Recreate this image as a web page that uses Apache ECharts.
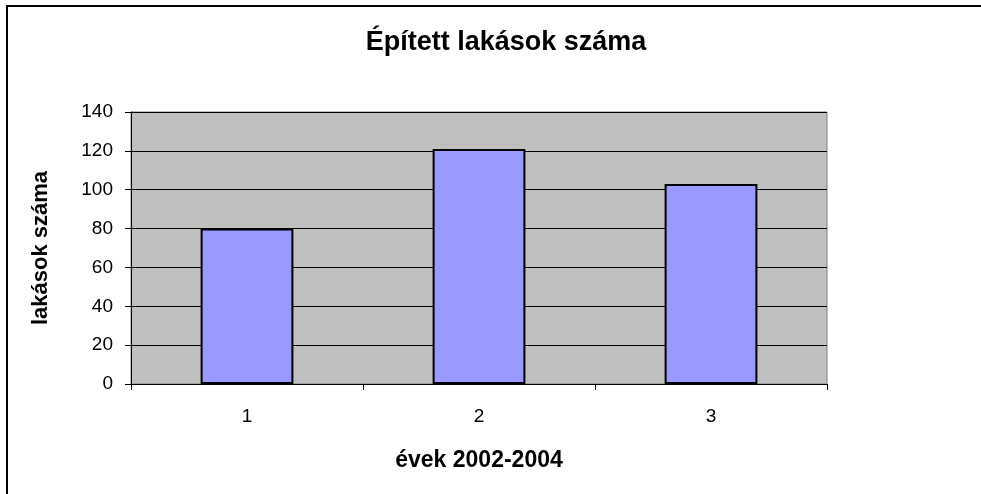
<!DOCTYPE html>
<html>
<head>
<meta charset="utf-8">
<script src="https://cdn.jsdelivr.net/npm/echarts@6/dist/echarts.min.js"></script>
<style>
  html, body { margin: 0; padding: 0; background: #fff; }
  #chart { width: 981px; height: 494px; }
</style>
</head>
<body>
<div id="chart"></div>
<script>
// adatok
var years = ["1", "2", "3"];
var flats = [80, 121, 103];
var yTicks = [0, 20, 40, 60, 80, 100, 120, 140];

var chart = echarts.init(document.getElementById("chart"));
var font = "Liberation Sans, Arial, sans-serif";

var option = {
  animation: false,
  backgroundColor: "#fff",
  title: {
    text: "Épített lakások száma",
    left: 501,
    textAlign: "center",
    top: 24,
    textStyle: { fontFamily: font, fontSize: 27, fontWeight: "bold", color: "#000" }
  },
  // keret a diagram körül
  graphic: [
    {
      type: "rect",
      shape: { x: 7, y: 6, width: 1100, height: 600 },
      style: { fill: "none", stroke: "#000", lineWidth: 2 },
      silent: true
    }
  ],
  grid: {
    left: 131,
    right: 154,
    top: 112,
    bottom: 110,
    show: true,
    backgroundColor: "#c0c0c0",
    borderColor: "#808080",
    borderWidth: 1
  },
  xAxis: {
    type: "category",
    data: years,
    name: "évek 2002-2004",
    nameLocation: "middle",
    nameGap: 65,
    nameTextStyle: { fontFamily: font, fontSize: 23, fontWeight: "bold", color: "#000" },
    axisLine: { lineStyle: { color: "#000", width: 1 } },
    axisTick: { show: true, alignWithLabel: false, length: 6, lineStyle: { color: "#000" } },
    axisLabel: { fontFamily: font, fontSize: 19, color: "#000", margin: 23 },
    splitLine: { show: false }
  },
  yAxis: {
    type: "value",
    min: yTicks[0],
    max: yTicks[yTicks.length - 1],
    interval: 20,
    name: "lakások száma",
    nameLocation: "middle",
    nameGap: 79,
    nameTextStyle: { fontFamily: font, fontSize: 22, fontWeight: "bold", color: "#000" },
    axisLine: { show: true, lineStyle: { color: "#000", width: 1 } },
    axisTick: { show: true, length: 6, lineStyle: { color: "#000" } },
    axisLabel: { fontFamily: font, fontSize: 19, color: "#000", margin: 18 },
    splitLine: { show: true, lineStyle: { color: "#000", width: 1 } }
  },
  series: [
    {
      type: "bar",
      data: flats,
      barWidth: "40%",
      itemStyle: { color: "#9999ff", borderColor: "#000", borderWidth: 2 }
    }
  ]
};

chart.setOption(option);
</script>
</body>
</html>
